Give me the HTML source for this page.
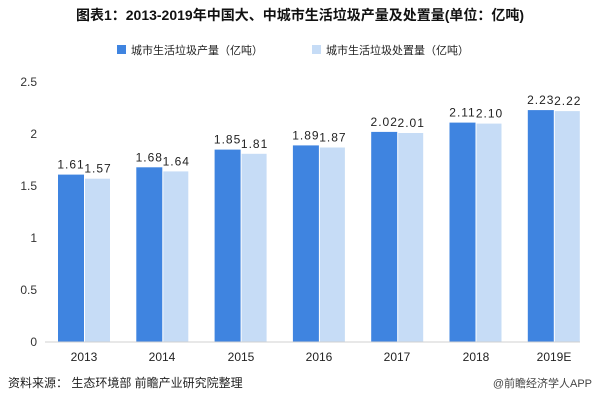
<!DOCTYPE html>
<html><head><meta charset="utf-8"><style>
body{margin:0;background:#fff;}
svg text{font-family:"Liberation Sans","Noto Sans CJK SC",sans-serif;}
</style></head><body>
<svg width="600" height="403" xmlns="http://www.w3.org/2000/svg">
<text x="300" y="20" text-anchor="middle" font-size="14" font-weight="bold" fill="#111">图表1：2013-2019年中国大、中城市生活垃圾产量及处置量(单位：亿吨)</text>
<rect x="117" y="45" width="9" height="9" fill="#3f84e0"/>
<text x="131" y="54" font-size="11" fill="#222">城市生活垃圾产量（亿吨）</text>
<rect x="312" y="45" width="9" height="9" fill="#c6dcf6"/>
<text x="326" y="54" font-size="11" fill="#222">城市生活垃圾处置量（亿吨）</text>
<g font-size="12" fill="#333" text-anchor="end">
<text x="37" y="86">2.5</text><text x="37" y="138">2</text><text x="37" y="190">1.5</text>
<text x="37" y="242">1</text><text x="37" y="294">0.5</text><text x="37" y="346">0</text>
</g>
<g fill="#3f84e0">
<rect x="58" y="174.6" width="26" height="167.4"/>
<rect x="136.3" y="167.3" width="26" height="174.7"/>
<rect x="214.6" y="149.6" width="26" height="192.4"/>
<rect x="292.9" y="145.4" width="26" height="196.6"/>
<rect x="371.2" y="131.9" width="26" height="210.1"/>
<rect x="449.5" y="122.6" width="26" height="219.4"/>
<rect x="527.8" y="110.1" width="26" height="231.9"/>
</g>
<g fill="#c6dcf6">
<rect x="85" y="178.7" width="25" height="163.3"/>
<rect x="163.3" y="171.4" width="25" height="170.6"/>
<rect x="241.6" y="153.8" width="25" height="188.2"/>
<rect x="319.9" y="147.5" width="25" height="194.5"/>
<rect x="398.2" y="133" width="25" height="209"/>
<rect x="476.5" y="123.6" width="25" height="218.4"/>
<rect x="554.8" y="111.1" width="25" height="230.9"/>
</g>
<line x1="45" y1="342" x2="580" y2="342" stroke="#d0d0d0" stroke-width="1"/>
<g font-size="12" fill="#222" text-anchor="middle" letter-spacing="1">
<text x="71" y="168.6">1.61</text><text x="98" y="172.7">1.57</text>
<text x="149.3" y="161.3">1.68</text><text x="176.3" y="165.4">1.64</text>
<text x="227.6" y="143.6">1.85</text><text x="254.6" y="147.8">1.81</text>
<text x="305.9" y="139.4">1.89</text><text x="332.9" y="141.5">1.87</text>
<text x="384.2" y="125.9">2.02</text><text x="411.2" y="127">2.01</text>
<text x="462.5" y="116.6">2.11</text><text x="489.5" y="117.6">2.10</text>
<text x="540.8" y="104.1">2.23</text><text x="567.8" y="105.1">2.22</text>
</g>
<g font-size="12" fill="#222" text-anchor="middle">
<text x="84" y="361">2013</text><text x="162" y="361">2014</text><text x="241" y="361">2015</text>
<text x="319" y="361">2016</text><text x="397" y="361">2017</text><text x="476" y="361">2018</text>
<text x="554" y="361">2019E</text>
</g>
<text x="8" y="387" font-size="12" fill="#222">资料来源：  生态环境部 前瞻产业研究院整理</text>
<text x="592" y="387" font-size="11" fill="#444" text-anchor="end">@前瞻经济学人APP</text>
</svg>
</body></html>
